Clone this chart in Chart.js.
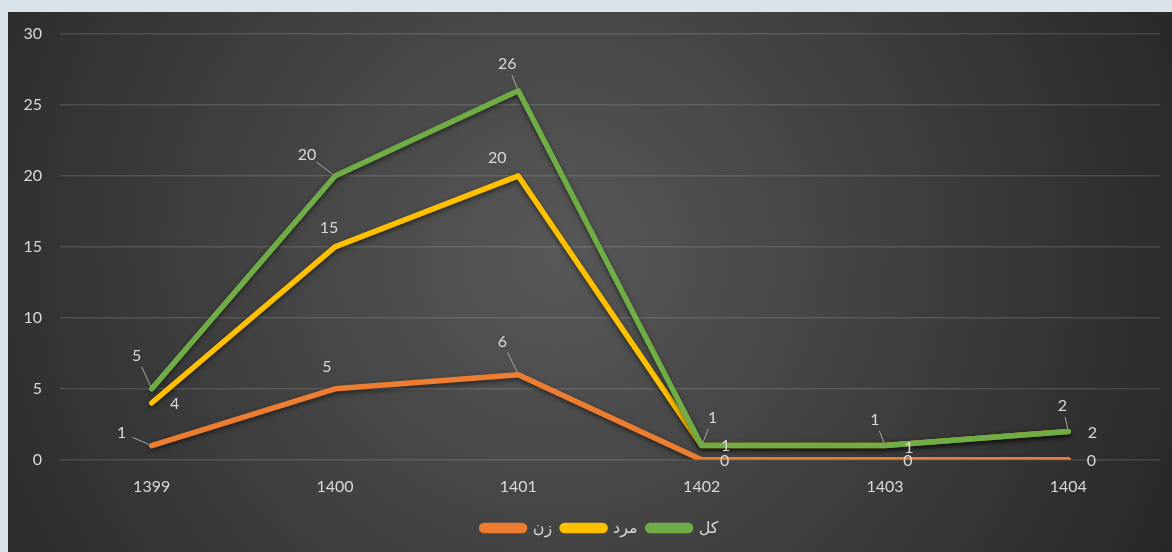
<!DOCTYPE html>
<html>
<head>
<meta charset="utf-8">
<script src="https://cdn.jsdelivr.net/npm/chart.js@4"></script>
<style>
    body { margin: 0; background: #dbe3ea; width: 1172px; height: 552px; overflow: hidden; }
    #wrap { position: absolute; left: 8px; top: 12px; width: 1164px; height: 540px; }
</style>
</head>
<body>
<div id="wrap"><canvas id="lineChart" width="1164" height="540"></canvas></div>
<script>
// Chart data
const years = ['1399', '1400', '1401', '1402', '1403', '1404'];
const women = [1, 5, 6, 0, 0, 0];
const men = [4, 15, 20, 1, 1, 2];
const total = [5, 20, 26, 1, 1, 2];

const FONT = "Lato, 'DejaVu Sans', sans-serif";
const TEXT = '#d9d9d9';

// label offset from its point (dx, dy) and whether Excel drew a leader line
const labelOffsets = [
    [[-30, -13], [-8, -22], [-16, -33], [23, 1], [23, 1], [23, 1]],
    [[23, 1], [-6, -19], [-21, -18], [24, 0], [24, 2], [24, 1]],
    [[-15, -33], [-28, -21], [-11, -27], [11, -28], [-10, -26], [-6, -26]]
];
const leaders = [
    [true, false, true, false, false, false],
    [false, false, false, false, false, false],
    [true, true, true, true, true, true]
];

// Dark radial background like the Excel chart
const background = {
    id: 'background',
    beforeDraw(chart) {
        const ctx = chart.ctx;
        const w = chart.width, h = chart.height;
        const g = ctx.createRadialGradient(w * 0.47, h * 0.45, 0, w * 0.47, h * 0.45, w * 0.6);
        g.addColorStop(0, '#585858');
        g.addColorStop(1, '#262626');
        ctx.save();
        ctx.fillStyle = g;
        ctx.fillRect(0, 0, w, h);
        ctx.restore();
    }
};

// Nudge the legend a bit right, Excel centres it on the plot area
const legendShift = {
    id: 'legendShift',
    afterLayout(chart) {
        const lg = chart.legend;
        lg.left += 16;
        lg.right += 16;
        (lg.legendHitBoxes || []).forEach(b => { b.left += 16; });
    }
};

// Soft shadow under the lines
const lineShadow = {
    id: 'lineShadow',
    beforeDatasetsDraw(chart) {
        const ctx = chart.ctx;
        ctx.save();
        ctx.shadowColor = 'rgba(0,0,0,0.55)';
        ctx.shadowBlur = 5;
        ctx.shadowOffsetY = 2;
    },
    afterDatasetsDraw(chart) {
        chart.ctx.restore();
    }
};

// Value labels next to the points
const valueLabels = {
    id: 'valueLabels',
    afterDatasetsDraw(chart) {
        const ctx = chart.ctx;
        ctx.save();
        ctx.font = '16px ' + FONT;
        ctx.fillStyle = TEXT;
        ctx.textAlign = 'center';
        ctx.textBaseline = 'middle';
        chart.data.datasets.forEach((ds, i) => {
            const meta = chart.getDatasetMeta(i);
            meta.data.forEach((pt, j) => {
                const [dx, dy] = labelOffsets[i][j];
                const x = pt.x + dx, y = pt.y + dy;
                ctx.fillText(String(ds.data[j]), x, y);
                if (leaders[i][j]) {
                    const len = Math.hypot(dx, dy);
                    const ux = -dx / len, uy = -dy / len;
                    ctx.beginPath();
                    ctx.strokeStyle = '#a6a6a6';
                    ctx.lineWidth = 1;
                    ctx.moveTo(x + ux * 12, y + uy * 12);
                    ctx.lineTo(pt.x - ux * 3, pt.y - uy * 3);
                    ctx.stroke();
                }
            });
        });
        ctx.restore();
    }
};

function series(label, data, color, order) {
    return {
        label: label,
        data: data,
        borderColor: color,
        backgroundColor: color,
        borderWidth: 5.5,
        borderCapStyle: 'round',
        borderJoinStyle: 'round',
        pointRadius: 0,
        tension: 0,
        order: order
    };
}

new Chart(document.getElementById('lineChart').getContext('2d'), {
    type: 'line',
    data: {
        labels: years,
        datasets: [
            series('زن', women, '#ED7D31', 3),
            series('مرد', men, '#FFC000', 2),
            series('کل', total, '#70AD47', 1)
        ]
    },
    options: {
        responsive: false,
        animation: false,
        layout: { padding: { top: 22, right: 12, left: 0, bottom: 6 } },
        scales: {
            x: {
                offset: true,
                grid: { display: false },
                border: { display: false },
                ticks: { color: TEXT, font: { size: 16, family: FONT }, padding: 9 },
                afterFit(scale) { scale.height = scale.height + 5; }
            },
            y: {
                min: 0,
                max: 30,
                ticks: { stepSize: 5, color: TEXT, font: { size: 16, family: FONT }, padding: 18 },
                grid: { color: 'rgba(255,255,255,0.13)', lineWidth: 1.5, drawTicks: false },
                border: { display: false },
                afterFit(scale) {
                    scale.width = 52;
                    scale.paddingTop = 0;
                    scale.paddingBottom = 0;
                }
            }
        },
        plugins: {
            legend: {
                position: 'bottom',
                labels: {
                    color: TEXT,
                    font: { size: 16, family: FONT },
                    boxWidth: 43,
                    boxHeight: 5,
                    useBorderRadius: true,
                    borderRadius: 2.5,
                    padding: 10,
                    sort: (a, b) => a.datasetIndex - b.datasetIndex
                }
            },
            tooltip: { enabled: false }
        }
    },
    plugins: [background, legendShift, lineShadow, valueLabels]
});
</script>
</body>
</html>
